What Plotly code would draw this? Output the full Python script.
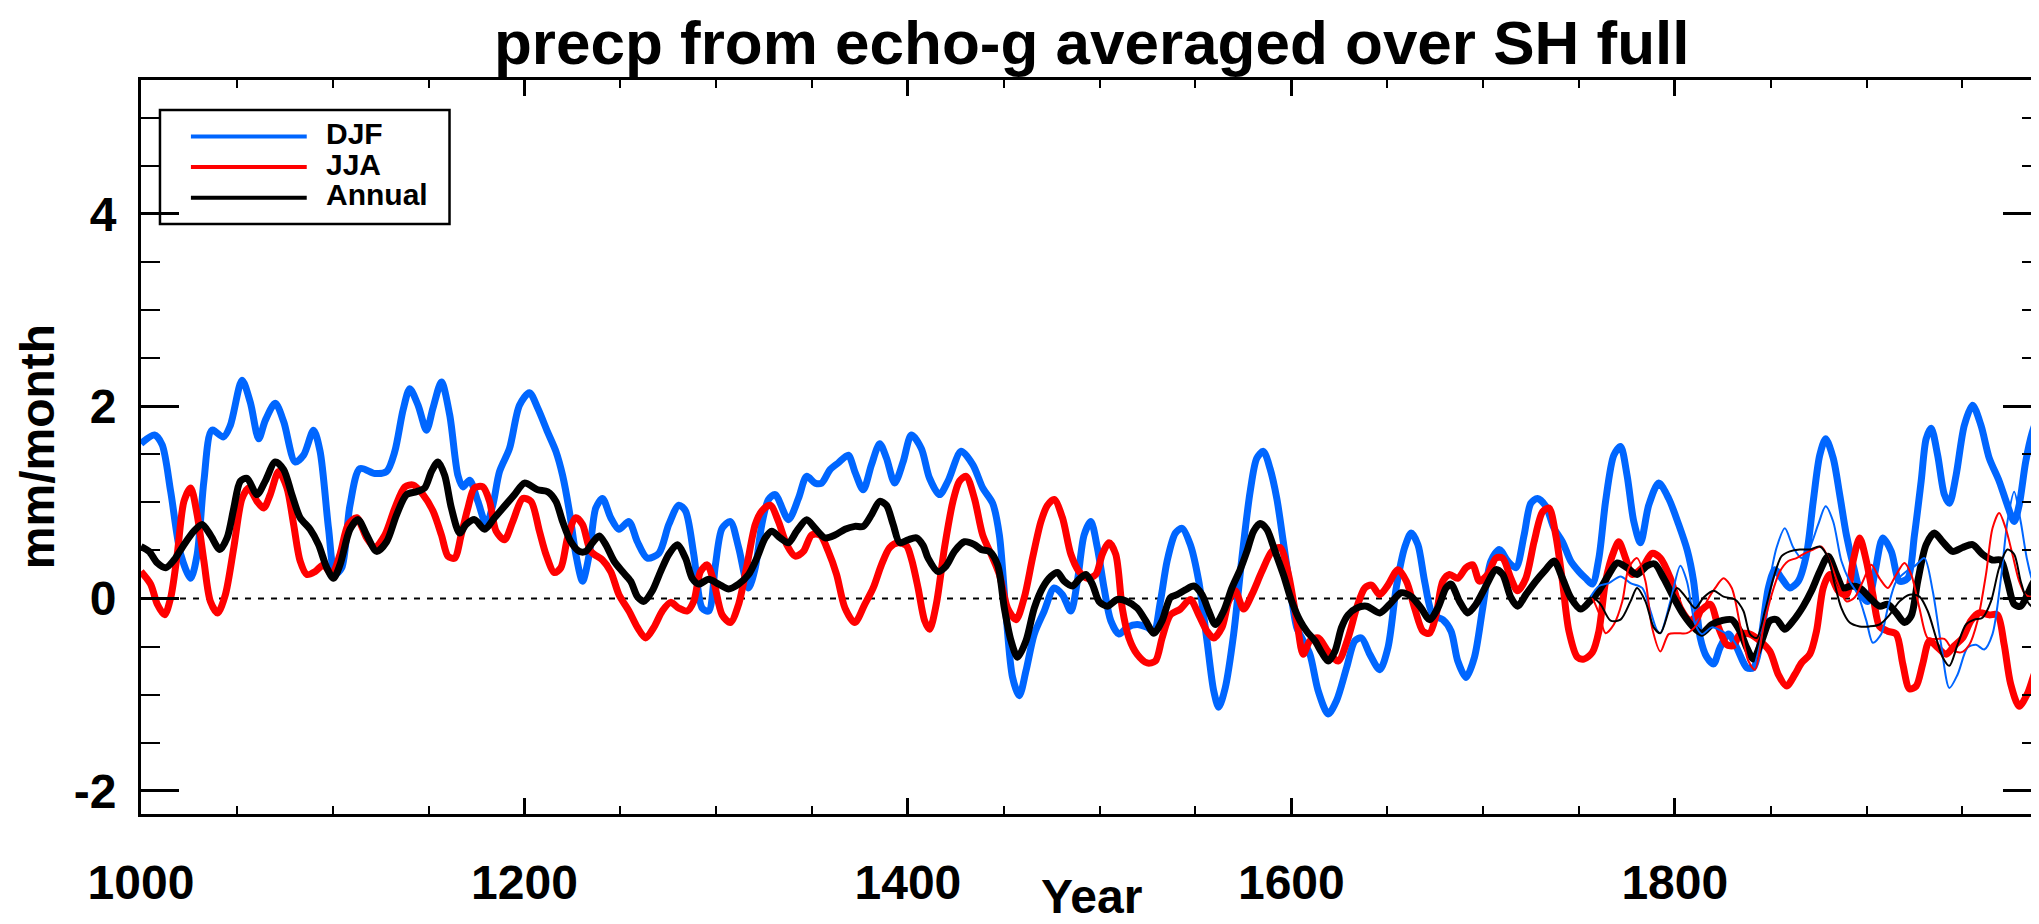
import plotly.graph_objects as go

# ---------------- data ----------------
djf_years = [1000, 1007, 1011, 1015.5, 1020.7, 1025.9, 1029.3, 1032.8, 1037, 1043, 1046.6, 1052.7, 1057, 1061.4, 1064.8, 1070, 1074.4, 1080.4, 1084.8, 1090, 1093.4, 1097.8, 1101.2, 1104.7, 1109, 1114.2, 1122, 1128.1, 1132.4, 1136.7, 1140.2, 1144.5, 1148.9, 1152.3, 1156.7, 1161, 1165.3, 1167.9, 1171.4, 1175.7, 1180.1, 1183.5, 1187, 1192.2, 1197.4, 1202.6, 1206.9, 1212.1, 1216.4, 1219.9, 1223.4, 1226.8, 1230.3, 1233.8, 1237.2, 1240.7, 1245, 1249.3, 1254.5, 1258.9, 1264.1, 1270.1, 1275.3, 1280.5, 1284, 1288.3, 1292.7, 1296.1, 1299.6, 1303.1, 1307.4, 1311.7, 1316.9, 1320.4, 1323.8, 1327.3, 1330.8, 1337.7, 1342.9, 1347.2, 1351.6, 1355, 1359.4, 1363.7, 1368.9, 1372.3, 1376.7, 1381, 1385.3, 1388.8, 1393.1, 1397.5, 1401.8, 1407, 1411.3, 1416.5, 1420.9, 1427.8, 1433.9, 1439, 1444.2, 1447.7, 1451.2, 1454.6, 1458.1, 1461.6, 1465.9, 1471.1, 1476.3, 1480.6, 1485, 1488.4, 1491.9, 1495.4, 1498.8, 1502.3, 1505.8, 1510.1, 1514.4, 1519.6, 1524.8, 1528.3, 1531.7, 1535.2, 1539.5, 1543, 1547.3, 1551.7, 1556, 1559.5, 1562.1, 1565.5, 1569.9, 1574.2, 1578.5, 1582, 1585.4, 1588.9, 1592.4, 1595.8, 1599.3, 1602.8, 1606.2, 1609.7, 1614, 1619.2, 1623.6, 1628.8, 1633.1, 1636.6, 1640.9, 1646.1, 1650.4, 1654.7, 1659.1, 1662.5, 1666, 1669.5, 1673.8, 1679, 1683.3, 1686.8, 1691.1, 1695.5, 1699.8, 1704.1, 1708.5, 1712.8, 1717.1, 1721.4, 1724.9, 1728.4, 1732.7, 1737, 1741.4, 1745.7, 1750, 1753.5, 1757, 1760.4, 1763.9, 1768.2, 1771.7, 1775.1, 1778.6, 1782.1, 1786.4, 1791.6, 1796.8, 1802, 1806.5, 1809.8, 1813.3, 1816.7, 1820.2, 1823.6, 1828, 1832.3, 1837.5, 1841, 1844.4, 1848.8, 1852.2, 1855.7, 1860, 1864.4, 1868.7, 1872.2, 1875.6, 1878.7, 1882.6, 1886, 1889.5, 1893, 1897.3, 1900.7, 1904.2, 1908.5, 1912.9, 1917.2, 1921.5, 1925, 1928.5, 1931.1, 1933.7, 1937.1, 1940.6, 1943.2, 1946.7, 1951, 1955.3, 1959.7, 1964, 1969.2, 1973.5, 1977, 1979.6, 1983, 1986.5, 1991]
djf_vals = [1.61, 1.70, 1.60, 1.11, 0.46, 0.21, 0.46, 1.22, 1.75, 1.68, 1.80, 2.27, 2.04, 1.66, 1.85, 2.03, 1.84, 1.42, 1.49, 1.75, 1.53, 0.73, 0.25, 0.32, 0.97, 1.35, 1.30, 1.32, 1.53, 1.96, 2.18, 2.01, 1.75, 1.98, 2.25, 1.91, 1.28, 1.16, 1.23, 1.01, 0.77, 0.97, 1.32, 1.56, 2.01, 2.14, 1.98, 1.73, 1.53, 1.28, 0.91, 0.46, 0.18, 0.46, 0.94, 1.04, 0.84, 0.72, 0.80, 0.59, 0.42, 0.47, 0.77, 0.97, 0.91, 0.46, -0.10, -0.13, 0.35, 0.73, 0.80, 0.53, 0.11, 0.32, 0.77, 1.03, 1.08, 0.82, 1.04, 1.27, 1.20, 1.20, 1.34, 1.41, 1.49, 1.32, 1.13, 1.39, 1.61, 1.46, 1.20, 1.42, 1.70, 1.56, 1.25, 1.08, 1.22, 1.53, 1.39, 1.15, 0.99, 0.66, -0.17, -0.82, -1.01, -0.75, -0.37, -0.13, 0.11, 0.04, -0.13, 0.18, 0.66, 0.80, 0.53, 0.11, -0.23, -0.37, -0.30, -0.27, -0.30, -0.34, -0.03, 0.39, 0.68, 0.73, 0.56, 0.18, -0.44, -0.96, -1.13, -0.93, -0.37, 0.42, 1.11, 1.46, 1.53, 1.35, 1.04, 0.59, 0.11, -0.30, -0.44, -0.58, -0.96, -1.20, -1.06, -0.72, -0.44, -0.41, -0.58, -0.74, -0.51, 0.11, 0.53, 0.68, 0.56, 0.18, -0.17, -0.22, -0.34, -0.65, -0.82, -0.61, -0.10, 0.39, 0.51, 0.39, 0.32, 0.66, 0.99, 1.04, 0.96, 0.73, 0.59, 0.39, 0.28, 0.21, 0.15, 0.42, 1.01, 1.49, 1.58, 1.28, 0.80, 0.58, 0.97, 1.20, 1.04, 0.77, 0.50, 0.18, -0.41, -0.61, -0.68, -0.51, -0.37, -0.51, -0.72, -0.72, -0.48, 0.11, 0.30, 0.21, 0.11, 0.18, 0.46, 1.01, 1.49, 1.66, 1.46, 1.08, 0.66, 0.35, 0.04, -0.03, 0.25, 0.63, 0.49, 0.18, 0.21, 0.66, 1.22, 1.66, 1.77, 1.49, 1.08, 0.99, 1.28, 1.80, 2.01, 1.80, 1.46, 1.22, 0.97, 0.80, 0.97, 1.42, 1.73, 1.98]

jja_years = [1000, 1005, 1008.5, 1012.3, 1015.5, 1018.9, 1022.4, 1025.9, 1029.3, 1032.8, 1036.2, 1040, 1044, 1048.4, 1052.7, 1056.2, 1060.5, 1064, 1067.4, 1071.8, 1076.1, 1079.6, 1083, 1086.5, 1090.8, 1095.2, 1099.5, 1103.8, 1108.1, 1112.5, 1117.7, 1122, 1127.2, 1132.4, 1137.6, 1142, 1147.1, 1152.3, 1156.7, 1160.1, 1163.6, 1167, 1170.5, 1173.9, 1178.3, 1181.8, 1185.2, 1189.6, 1193.9, 1199.1, 1203.4, 1207.8, 1211.2, 1215.6, 1219, 1222.5, 1226.8, 1230.3, 1234.6, 1240.7, 1245, 1249.3, 1254.5, 1258.9, 1263.2, 1267.5, 1271.9, 1276.2, 1280.5, 1284.9, 1288.3, 1291.8, 1295.3, 1298.7, 1303.1, 1307.4, 1311.7, 1316.1, 1320.4, 1323.8, 1328.2, 1332.5, 1336.8, 1341.2, 1345.5, 1349.8, 1354.2, 1358.5, 1362.8, 1367.2, 1372.3, 1377.5, 1381.9, 1386.2, 1390.5, 1394.9, 1399.2, 1402, 1405.3, 1408.7, 1411.3, 1414.8, 1419.1, 1423.5, 1426.9, 1430.4, 1434.7, 1439, 1443.4, 1447.7, 1452, 1456.4, 1460.7, 1465, 1469.4, 1472.8, 1476.3, 1480.6, 1485, 1489.3, 1493.6, 1498, 1501.4, 1504.9, 1508.4, 1511.8, 1515.3, 1519.6, 1524.8, 1529.1, 1532.6, 1536.9, 1542.1, 1547.3, 1551.7, 1556, 1559.5, 1563.8, 1567.3, 1570.7, 1575.1, 1579.4, 1584.6, 1589.8, 1594.1, 1598.5, 1602.8, 1606.2, 1609.7, 1614, 1619.2, 1624.4, 1629.6, 1634, 1638.3, 1641.8, 1646.1, 1650.4, 1655.6, 1660, 1664.3, 1668.6, 1672.1, 1675.5, 1679, 1682.5, 1686.8, 1691.1, 1694.6, 1698.1, 1702.4, 1706.7, 1710.2, 1714.5, 1718, 1722.3, 1726.6, 1731, 1734.4, 1737.9, 1741.4, 1744.8, 1749.2, 1752.6, 1757, 1760.4, 1763.9, 1768.2, 1770.8, 1774.3, 1777.8, 1783, 1788.1, 1792.5, 1797.7, 1802.9, 1808.1, 1813.3, 1818.5, 1822.8, 1827.1, 1830.6, 1834, 1839.2, 1844.4, 1849.6, 1854, 1858.3, 1862.6, 1866.1, 1870.4, 1873.9, 1877.4, 1880.8, 1885.2, 1889.5, 1893, 1896.4, 1899.9, 1903.3, 1906.8, 1911.1, 1915.5, 1918.9, 1922.4, 1925.9, 1929.3, 1932.8, 1937.1, 1941.5, 1945.8, 1950.1, 1954.5, 1958.8, 1964, 1968.3, 1971.8, 1975.2, 1979.6, 1983.9, 1987.4, 1991]
jja_vals = [0.28, 0.15, -0.06, -0.17, 0.01, 0.46, 1.01, 1.15, 0.87, 0.39, -0.03, -0.15, 0.04, 0.53, 1.04, 1.15, 1.01, 0.94, 1.08, 1.32, 1.15, 0.77, 0.39, 0.25, 0.28, 0.35, 0.25, 0.46, 0.77, 0.84, 0.63, 0.53, 0.66, 0.94, 1.16, 1.18, 1.08, 0.91, 0.66, 0.44, 0.42, 0.66, 0.94, 1.15, 1.16, 1.01, 0.70, 0.61, 0.80, 1.04, 1.01, 0.70, 0.46, 0.27, 0.32, 0.63, 0.84, 0.77, 0.49, 0.40, 0.28, 0.04, -0.13, -0.30, -0.41, -0.30, -0.13, -0.04, -0.10, -0.13, -0.03, 0.28, 0.35, 0.18, -0.17, -0.25, -0.06, 0.35, 0.77, 0.91, 0.97, 0.80, 0.56, 0.44, 0.49, 0.66, 0.66, 0.49, 0.25, -0.10, -0.25, -0.06, 0.11, 0.35, 0.53, 0.58, 0.55, 0.40, 0.11, -0.23, -0.32, -0.06, 0.53, 1.01, 1.22, 1.27, 1.04, 0.66, 0.46, 0.25, -0.10, -0.22, 0.01, 0.42, 0.80, 0.97, 1.03, 0.84, 0.46, 0.28, 0.21, 0.25, 0.46, 0.58, 0.46, -0.10, -0.41, -0.58, -0.67, -0.65, -0.41, -0.17, -0.11, -0.01, -0.17, -0.34, -0.41, -0.30, -0.03, 0.08, -0.11, 0.04, 0.28, 0.49, 0.53, 0.25, -0.23, -0.58, -0.44, -0.41, -0.55, -0.65, -0.41, -0.10, 0.11, 0.14, 0.04, 0.14, 0.30, 0.18, -0.10, -0.34, -0.36, -0.17, 0.18, 0.25, 0.21, 0.32, 0.35, 0.18, 0.25, 0.42, 0.42, 0.21, 0.08, 0.21, 0.59, 0.90, 0.94, 0.66, 0.18, -0.34, -0.61, -0.63, -0.56, -0.34, 0.18, 0.49, 0.59, 0.42, 0.25, 0.32, 0.47, 0.42, 0.21, -0.10, -0.23, -0.13, -0.06, -0.30, -0.48, -0.49, -0.37, -0.37, -0.44, -0.55, -0.79, -0.91, -0.79, -0.67, -0.58, -0.34, 0.11, 0.25, 0.08, 0.04, 0.39, 0.63, 0.39, 0.04, -0.29, -0.34, -0.37, -0.68, -0.94, -0.91, -0.68, -0.44, -0.51, -0.58, -0.49, -0.41, -0.23, -0.15, -0.17, -0.17, -0.48, -0.89, -1.12, -0.99, -0.79, -0.62]

ann_years = [1000, 1004.2, 1008.5, 1012.9, 1017.2, 1022.4, 1027.6, 1031.9, 1036.2, 1041.1, 1044.9, 1048.4, 1051.8, 1055.3, 1060.5, 1064.8, 1070, 1074.4, 1078.7, 1083, 1088.2, 1092.6, 1096.9, 1100.4, 1103.8, 1109, 1113.3, 1117.7, 1122.9, 1128.1, 1133.3, 1138.5, 1143.7, 1148, 1151.5, 1154.9, 1158.4, 1161.9, 1166.2, 1169.6, 1174, 1179.2, 1184.4, 1189.6, 1194.8, 1200, 1206.9, 1212.1, 1216.4, 1219.9, 1224.2, 1228.6, 1232, 1235.5, 1239, 1242.4, 1246.7, 1251.1, 1255.4, 1258.9, 1262.3, 1266.7, 1271, 1275.3, 1279.7, 1284, 1287.5, 1290.9, 1296.1, 1301.3, 1306.5, 1311.7, 1316.9, 1321.2, 1325.6, 1329, 1333.4, 1337.7, 1342, 1347.2, 1351.6, 1356.8, 1362, 1367.2, 1372.3, 1376.7, 1381, 1385.3, 1388.8, 1392.3, 1395.7, 1400.1, 1404.4, 1408, 1410.5, 1415.7, 1420, 1424.3, 1429.5, 1434.7, 1438.2, 1442.5, 1446.8, 1450.3, 1453.8, 1457.2, 1461.6, 1465.9, 1470.2, 1474.6, 1478, 1481.5, 1485.8, 1489.3, 1492.8, 1496.2, 1499.7, 1504, 1509.2, 1514.4, 1519.6, 1524, 1528.3, 1532.6, 1536.9, 1540.4, 1544.7, 1549.1, 1553.4, 1556.9, 1560.3, 1564.7, 1569, 1573.3, 1576.8, 1580.3, 1583.7, 1587.2, 1591.5, 1595.8, 1600.2, 1604.5, 1608, 1612.3, 1615.8, 1619.2, 1622.7, 1626.2, 1629.6, 1634, 1639.2, 1646.1, 1651.3, 1657.3, 1662.5, 1667.7, 1672.1, 1676.4, 1680.7, 1683.3, 1687.7, 1692, 1696.3, 1701.5, 1706.7, 1710.2, 1714.5, 1718, 1722.3, 1727.5, 1732.7, 1737, 1741.4, 1745.7, 1750.9, 1755.2, 1760.4, 1765.6, 1770, 1775.1, 1780.3, 1785.5, 1789.5, 1794.2, 1799.4, 1804.6, 1809.8, 1814.1, 1819.3, 1824.5, 1829.7, 1834, 1837.5, 1841, 1845.3, 1849.6, 1853.1, 1857.4, 1861.8, 1867, 1871.3, 1875.6, 1880, 1884.3, 1887.8, 1892.1, 1896.4, 1901.6, 1906.8, 1911.1, 1915.5, 1919.8, 1923.3, 1926.7, 1931.1, 1935.4, 1939.7, 1944.9, 1950.1, 1955.3, 1960.5, 1965.7, 1970, 1973.5, 1977, 1980.4, 1983.9, 1987.4, 1991]
ann_vals = [0.54, 0.49, 0.37, 0.32, 0.40, 0.56, 0.70, 0.77, 0.66, 0.51, 0.63, 0.94, 1.22, 1.25, 1.08, 1.22, 1.42, 1.34, 1.08, 0.84, 0.72, 0.56, 0.32, 0.21, 0.35, 0.72, 0.82, 0.66, 0.49, 0.59, 0.87, 1.08, 1.11, 1.15, 1.32, 1.42, 1.28, 0.94, 0.68, 0.77, 0.82, 0.72, 0.84, 0.96, 1.08, 1.20, 1.13, 1.11, 1.01, 0.80, 0.59, 0.49, 0.49, 0.58, 0.65, 0.56, 0.39, 0.28, 0.18, 0.02, -0.03, 0.08, 0.28, 0.46, 0.56, 0.42, 0.21, 0.15, 0.20, 0.15, 0.10, 0.15, 0.25, 0.42, 0.63, 0.70, 0.63, 0.58, 0.70, 0.82, 0.73, 0.63, 0.66, 0.72, 0.75, 0.75, 0.87, 1.01, 0.97, 0.77, 0.58, 0.61, 0.63, 0.55, 0.42, 0.28, 0.34, 0.49, 0.59, 0.56, 0.51, 0.49, 0.35, -0.10, -0.44, -0.61, -0.44, -0.10, 0.11, 0.23, 0.27, 0.18, 0.13, 0.20, 0.25, 0.15, -0.03, -0.08, -0.01, -0.03, -0.10, -0.23, -0.36, -0.23, 0.01, 0.04, 0.09, 0.13, 0.04, -0.13, -0.27, -0.13, 0.11, 0.30, 0.49, 0.70, 0.78, 0.72, 0.49, 0.25, -0.03, -0.23, -0.34, -0.44, -0.56, -0.65, -0.55, -0.30, -0.17, -0.10, -0.08, -0.15, -0.06, 0.06, 0.02, -0.10, -0.22, -0.10, 0.11, 0.15, -0.03, -0.15, -0.06, 0.13, 0.30, 0.25, 0.01, -0.08, 0.04, 0.18, 0.30, 0.39, 0.21, 0.01, -0.11, -0.04, 0.08, 0.25, 0.37, 0.32, 0.25, 0.34, 0.36, 0.21, 0.01, -0.17, -0.30, -0.36, -0.27, -0.23, -0.22, -0.34, -0.51, -0.63, -0.44, -0.23, -0.22, -0.32, -0.23, -0.08, 0.08, 0.28, 0.44, 0.25, 0.11, 0.13, 0.11, 0.01, -0.08, -0.06, -0.15, -0.25, -0.18, 0.18, 0.56, 0.68, 0.59, 0.49, 0.53, 0.56, 0.46, 0.40, 0.40, 0.18, -0.06, -0.08, 0.04, 0.18, 0.24]

# thin lines (second set, from about 1757)
djf2_years = [1756.1, 1760.4, 1765.6, 1771.7, 1776.9, 1783, 1787.3, 1790.7, 1792.5, 1797.7, 1802.9, 1806.3, 1810.7, 1814.1, 1819.3, 1824.5, 1829.7, 1834.9, 1840.1, 1844.4, 1848.8, 1853.1, 1857.4, 1861.8, 1866.1, 1870.4, 1874.8, 1878.7, 1882.6, 1886.9, 1891.2, 1895.5, 1899.9, 1903.3, 1907.7, 1911.1, 1915.5, 1920.7, 1925.9, 1930.2, 1934.5, 1938.9, 1943.2, 1947.5, 1952.7, 1957.1, 1961.4, 1965.7, 1970.1, 1973.5, 1977, 1980.4, 1983.9, 1987.4, 1991]
djf2_vals = [0.02, 0.13, 0.16, 0.23, 0.16, 0.11, -0.13, -0.33, -0.36, -0.03, 0.34, 0.18, -0.27, -0.37, -0.30, -0.34, -0.41, -0.58, -0.74, -0.48, 0.11, 0.53, 0.73, 0.53, 0.42, 0.53, 0.77, 0.96, 0.80, 0.39, 0.18, 0.04, -0.23, -0.46, -0.37, -0.10, 0.18, 0.28, 0.35, 0.42, 0.08, -0.48, -0.93, -0.79, -0.51, -0.48, -0.53, -0.37, 0.21, 0.80, 1.11, 0.80, 0.39, 0.16, 0.16]

jja2_years = [1757, 1760.4, 1763.9, 1768.2, 1772.6, 1776, 1780.3, 1784.7, 1788.1, 1792.5, 1796.8, 1801.1, 1806.3, 1811.5, 1816.7, 1821.1, 1825.4, 1829.7, 1834, 1838.4, 1841.8, 1846.2, 1850.5, 1854.8, 1859.2, 1863.5, 1867.8, 1872.2, 1876.5, 1880.8, 1885.2, 1889.5, 1893.8, 1898.1, 1902.5, 1906.8, 1911.1, 1915.5, 1919.8, 1923.3, 1927.6, 1931.9, 1936.3, 1940.6, 1944.9, 1949.3, 1953.6, 1957.9, 1962.3, 1965.7, 1969.2, 1972.6, 1976.1, 1979.6, 1983, 1987.4, 1991]
jja2_vals = [0.01, -0.15, -0.36, -0.27, -0.03, 0.32, 0.42, 0.18, -0.30, -0.55, -0.37, -0.36, -0.36, -0.27, -0.03, 0.11, 0.21, 0.11, -0.27, -0.65, -0.74, -0.30, 0.04, 0.28, 0.39, 0.42, 0.47, 0.51, 0.54, 0.39, 0.15, -0.03, 0.01, 0.18, 0.35, 0.21, 0.11, 0.25, 0.37, 0.25, -0.10, -0.41, -0.42, -0.42, -0.53, -0.56, -0.48, -0.23, 0.25, 0.73, 0.89, 0.73, 0.46, 0.18, 0.04, 0.01, 0.05]

ann2_years = [1757, 1761.3, 1766.5, 1771.7, 1776.9, 1780.3, 1784.7, 1789, 1792.5, 1796.8, 1801.1, 1805.5, 1810.7, 1815, 1820.2, 1825.4, 1831.4, 1835.8, 1839.2, 1842.7, 1847, 1851.4, 1855.7, 1860, 1865.2, 1870.4, 1875.6, 1880, 1883.4, 1886.9, 1891.2, 1896.4, 1901.6, 1906.8, 1912, 1917.2, 1922.4, 1927.6, 1931.9, 1936.3, 1939.7, 1943.2, 1947.5, 1951.9, 1956.2, 1960.5, 1964.9, 1969.2, 1973.5, 1977, 1980.4, 1983.9, 1987.4, 1991]
ann2_vals = [0.02, -0.06, -0.23, -0.22, -0.03, 0.11, -0.03, -0.30, -0.36, -0.13, 0.11, 0.02, -0.10, 0.01, 0.08, 0.02, -0.01, -0.13, -0.37, -0.41, -0.13, 0.21, 0.44, 0.49, 0.51, 0.51, 0.54, 0.42, 0.15, -0.10, -0.25, -0.29, -0.29, -0.27, -0.17, -0.03, 0.04, 0.02, -0.13, -0.41, -0.61, -0.70, -0.48, -0.27, -0.22, -0.20, -0.03, 0.32, 0.51, 0.46, 0.18, -0.03, -0.10, -0.10]

series_names = ["DJF", "JJA", "Annual"]
series_colors = ["#0066ff", "#ff0000", "#000000"]
x_ticks = [1000, 1200, 1400, 1600, 1800]
y_ticks = [-2, 0, 2, 4]
y_tick_text = ["-2", "0", "2", "4"]

FONT = "Liberation Sans, Arial, Helvetica, sans-serif"

fig = go.Figure()

thick = [(djf_years, djf_vals), (jja_years, jja_vals), (ann_years, ann_vals)]
thin = [(djf2_years, djf2_vals), (jja2_years, jja2_vals), (ann2_years, ann2_vals)]

for (xs, ys), name, col in zip(thick, series_names, series_colors):
    fig.add_trace(go.Scatter(x=xs, y=ys, mode="lines", name=name,
                             line=dict(color=col, width=7, shape="spline", smoothing=0.8),
                             showlegend=False))
for (xs, ys), name, col in zip(thin, series_names, series_colors):
    fig.add_trace(go.Scatter(x=xs, y=ys, mode="lines", name=name + " (2)",
                             line=dict(color=col, width=2, shape="spline", smoothing=0.8),
                             showlegend=False))

W, H = 2039, 924
L, R, T, B = 133, 3, 72, 118

fig.update_layout(
    width=W, height=H,
    margin=dict(l=L, r=R, t=T, b=B, pad=0),
    paper_bgcolor="white", plot_bgcolor="white",
    showlegend=False,
    font=dict(family=FONT, color="black", size=48, weight="bold"),
)

fig.update_xaxes(
    range=[1000, 1991], showgrid=False, zeroline=False,
    showline=True, linecolor="black", linewidth=3, mirror="allticks",
    ticks="inside", ticklen=16, tickwidth=2.5, tickcolor="black",
    tickvals=x_ticks, ticktext=[str(v) for v in x_ticks],
    tickfont=dict(family=FONT, size=48, color="black", weight="bold"),
    ticklabelstandoff=24,
    minor=dict(tickmode="linear", tick0=1000, dtick=50, ticks="inside",
               ticklen=8, tickwidth=2, tickcolor="black", showgrid=False),
)
fig.update_yaxes(
    range=[-2.24, 5.39], showgrid=False, zeroline=False,
    showline=True, linecolor="black", linewidth=3, mirror="allticks",
    ticks="inside", ticklen=38, tickwidth=2.5, tickcolor="black",
    tickvals=y_ticks, ticktext=y_tick_text,
    tickfont=dict(family=FONT, size=48, color="black", weight="bold"),
    ticklabelstandoff=12,
    minor=dict(tickmode="linear", tick0=0, dtick=0.5, ticks="inside",
               ticklen=19, tickwidth=2, tickcolor="black", showgrid=False),
)

pw = W - L - R
ph = H - T - B


def px(xpix):
    return (xpix - L) / pw


def py(ypix):
    return (H - B - ypix) / ph


shapes = [
    dict(type="line", xref="paper", yref="y", x0=0, x1=1, y0=0, y1=0,
         line=dict(color="black", width=2, dash="6px,7px"), layer="below"),
    dict(type="rect", xref="paper", yref="paper", x0=px(152), x1=px(442), y0=py(216), y1=py(102),
         line=dict(color="black", width=2.5), fillcolor="rgba(255,255,255,0)"),
]
legend_y = [128.5, 159, 189.7]
for yy, col in zip(legend_y, series_colors):
    shapes.append(dict(type="line", xref="paper", yref="paper", x0=px(183), x1=px(299),
                       y0=py(yy), y1=py(yy), line=dict(color=col, width=4)))

annotations = [
    dict(text="precp from echo-g averaged over SH full", xref="paper", yref="paper",
         x=px(1086), y=py(34), xanchor="center", yanchor="middle", showarrow=False,
         font=dict(family=FONT, size=62, color="black", weight="bold")),
    dict(text="Year", xref="paper", yref="paper", x=0.5, y=py(888), xanchor="center",
         yanchor="middle", showarrow=False,
         font=dict(family=FONT, size=48, color="black", weight="bold")),
    dict(text="mm/month", xref="paper", yref="paper", x=px(29), y=py(439), xanchor="center",
         yanchor="middle", textangle=-90, showarrow=False,
         font=dict(family=FONT, size=48, color="black", weight="bold")),
]
for yy, name in zip(legend_y, series_names):
    annotations.append(dict(text=name, xref="paper", yref="paper", x=px(316), y=py(yy - 3),
                            xanchor="left", yanchor="middle", showarrow=False,
                            font=dict(family=FONT, size=30, color="black", weight="bold")))

fig.update_layout(shapes=shapes, annotations=annotations)

fig.write_html("out.html")
